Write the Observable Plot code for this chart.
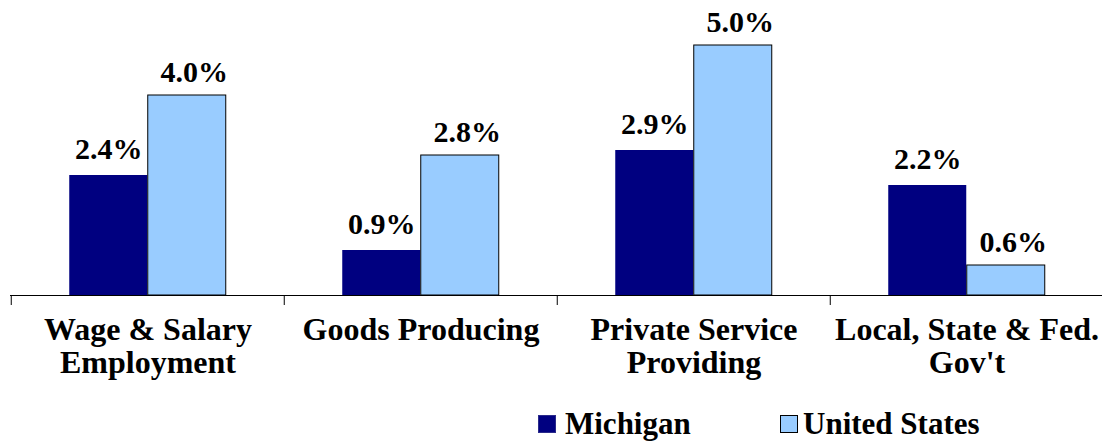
<!DOCTYPE html>
<html>
<head>
<meta charset="utf-8">
<script src="https://cdn.jsdelivr.net/npm/d3@7"></script>
<script src="https://cdn.jsdelivr.net/npm/@observablehq/plot@0.6"></script>
<style>
  html, body { margin: 0; padding: 0; background: #fff; }
  body { width: 1102px; height: 441px; overflow: hidden; }
  #legend { position: relative; height: 41px; width: 1102px; }
  .sw { position: absolute; top: 15px; width: 18px; height: 18px; box-sizing: border-box; }
  .lab { position: absolute; top: 6px; font-family: 'Liberation Serif'; font-size: 31px; font-weight: bold; line-height: 36px; color: #000; white-space: nowrap; }
</style>
</head>
<body>
<div id="chart"></div>
<div id="legend"></div>
<script>
const categories = ["Wage & Salary\nEmployment", "Goods Producing", "Private Service\nProviding", "Local, State & Fed.\nGov't"];
const seriesNames = ["Michigan", "United States"];
const michigan = [2.4, 0.9, 2.9, 2.2];
const unitedStates = [4.0, 2.8, 5.0, 0.6];
const colors = ["#000080", "#99CCFF"];

const FONT = "Liberation Serif";
const miData = categories.map((c, i) => ({category: c, value: michigan[i]}));
const usData = categories.map((c, i) => ({category: c, value: unitedStates[i]}));
const fmt = v => v.toFixed(1) + "%";

const x0 = 10, x1 = 1104;
const half = (x1 - x0) / categories.length / 2;   // half band width in px (layout)
const barW = 78.5;

const chart = Plot.plot({
  width: 1102,
  height: 400,
  marginLeft: 10,
  marginRight: 0,
  marginTop: 45,
  marginBottom: 105,
  x: {type: "band", domain: categories, padding: 0, range: [x0, x1], axis: null},
  y: {domain: [0, 5], axis: null},
  style: {background: "#fff", overflow: "visible"},
  marks: [
    Plot.barY(miData, {x: "category", y: "value", fill: colors[0], insetLeft: half - barW, insetRight: half}),
    Plot.barY(usData, {x: "category", y: "value", fill: colors[1], stroke: "#000", strokeWidth: 1, insetLeft: half, insetRight: half - barW}),
    Plot.text(miData, {x: "category", y: "value", text: d => fmt(d.value), dx: -barW / 2, dy: -17, lineAnchor: "bottom", fontFamily: FONT, fontSize: 30, fontWeight: "bold", fill: "#000"}),
    Plot.text(usData, {x: "category", y: "value", text: d => fmt(d.value), dx: barW / 2 + 7, dy: -14, lineAnchor: "bottom", fontFamily: FONT, fontSize: 30, fontWeight: "bold", fill: "#000"}),
    Plot.ruleY([0], {stroke: "#000", strokeWidth: 1}),
    Plot.ruleX(categories, {x: d => d, dx: -half, y1: 0, y2: -0.2, stroke: "#000", strokeWidth: 1}),
    Plot.text(categories, {x: d => d, y: () => 0, text: d => d, dy: 21, lineAnchor: "top", lineHeight: 1.03, fontFamily: FONT, fontSize: 32, fontWeight: "bold", fill: "#000"})
  ]
});
chart.style.fontFamily = "'Liberation Serif'";
document.getElementById("chart").appendChild(chart);

const legend = document.getElementById("legend");
const legendPos = [[538, 565], [780, 803]];
seriesNames.forEach((name, i) => {
  const sw = document.createElement("div");
  sw.className = "sw";
  sw.style.left = legendPos[i][0] + "px";
  sw.style.background = colors[i];
  sw.style.border = i === 1 ? "1px solid #000" : "1px solid #2a2a8a";
  legend.appendChild(sw);
  const lab = document.createElement("div");
  lab.className = "lab";
  lab.style.left = legendPos[i][1] + "px";
  lab.textContent = name;
  legend.appendChild(lab);
});
</script>
</body>
</html>
